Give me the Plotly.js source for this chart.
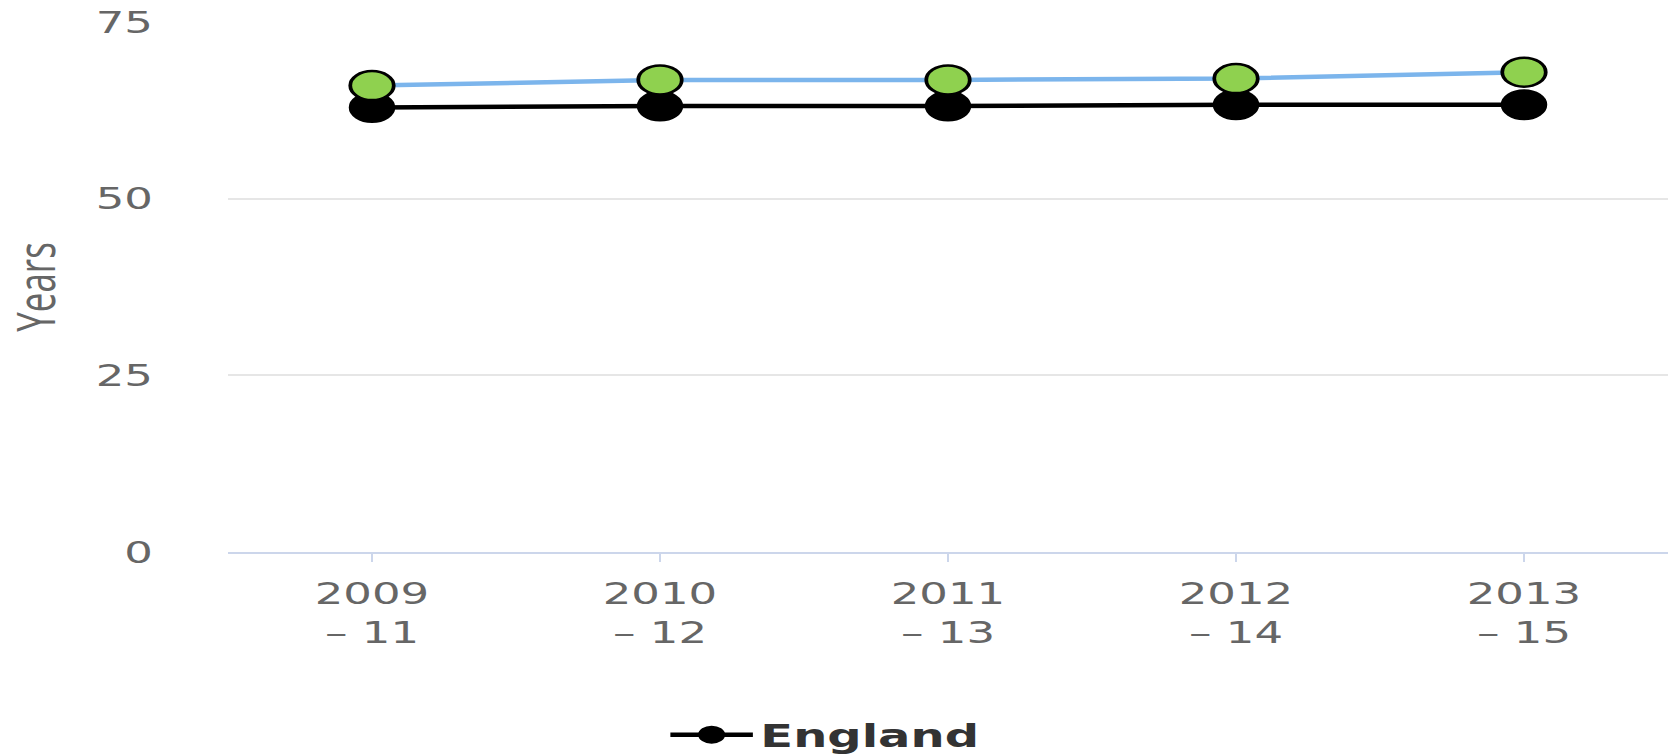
<!DOCTYPE html>
<html>
<head>
<meta charset="utf-8">
<script src="https://cdn.plot.ly/plotly-3.0.1.min.js"></script>
<style>
html,body{margin:0;padding:0;background:#fff;overflow:hidden;}
#chart{width:1117px;height:756px;transform:scaleX(1.5);transform-origin:0 0;}
</style>
</head>
<body>
<div id="chart"></div>
<script>
const periods = ["2009<br>– 11", "2010<br>– 12", "2011<br>– 13", "2012<br>– 14", "2013<br>– 15"];
const englandValues = [62.9, 63.1, 63.1, 63.3, 63.3];
const areaValues = [66.0, 66.8, 66.8, 67.0, 67.9];
const yTicks = [0, 25, 50, 75];

const traces = [
  {
    x: periods, y: englandValues, name: "England", type: "scatter", mode: "lines+markers",
    line: {color: "#000000", width: 4.5},
    marker: {color: "#000000", size: 29, line: {color: "#000000", width: 2}},
    showlegend: true
  },
  {
    x: periods, y: areaValues, name: "Area", type: "scatter", mode: "lines+markers",
    line: {color: "#7cb5ec", width: 4.5},
    marker: {color: "#8fd14f", size: 29, line: {color: "#000000", width: 2.5}},
    showlegend: false
  }
];

const layout = {
  width: 1117, height: 756,
  margin: {l: 152, r: 5, t: 22, b: 204, autoexpand: false},
  paper_bgcolor: "#ffffff", plot_bgcolor: "#ffffff",
  font: {family: "DejaVu Sans, Verdana, sans-serif", color: "#666666", size: 30},
  xaxis: {
    type: "category", range: [-0.5, 4.5],
    showgrid: false, zeroline: false,
    showline: true, linecolor: "#ccd6eb", linewidth: 2,
    ticks: "outside", ticklen: 8, tickwidth: 1.5, tickcolor: "#ccd6eb",
    ticklabelstandoff: 6,
    tickfont: {family: "DejaVu Sans, Verdana, sans-serif", size: 30, color: "#666666"},
    automargin: false,
    fixedrange: true
  },
  yaxis: {
    range: [0, 75], tickvals: yTicks, ticktext: yTicks.map(String),
    showgrid: true, gridcolor: "#e6e6e6", gridwidth: 2,
    zeroline: false, showline: false, ticks: "",
    ticklabelstandoff: 49,
    tickfont: {family: "DejaVu Sans, Verdana, sans-serif", size: 30, color: "#666666"},
    title: {text: "Years", standoff: 25, font: {family: "Open Sans, sans-serif", size: 35, color: "#666666"}},
    automargin: false,
    fixedrange: true
  },
  showlegend: true,
  legend: {
    orientation: "h", x: 0.302, xanchor: "left", y: -0.345, yanchor: "middle",
    itemwidth: 55,
    font: {family: "DejaVu Sans, Verdana, sans-serif", size: 32, color: "#333333", weight: "bold"}
  }
};

Plotly.newPlot("chart", traces, layout, {displayModeBar: false, staticPlot: true});
</script>
</body>
</html>
